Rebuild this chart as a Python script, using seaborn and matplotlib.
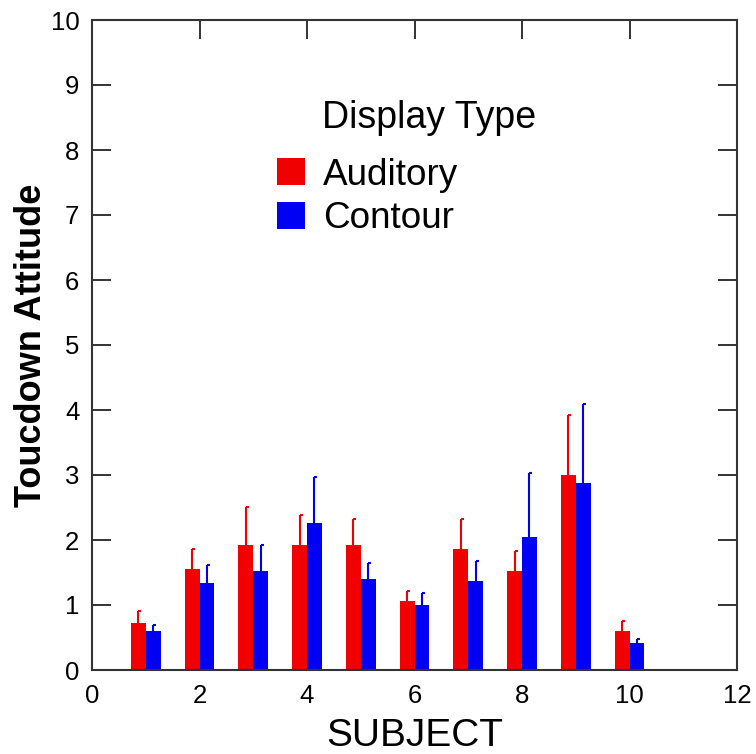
import matplotlib
matplotlib.use("Agg")
import matplotlib.pyplot as plt
from matplotlib.patches import Patch
import seaborn as sns
import pandas as pd

# Mean touchdown attitude per subject and display type, with upper error
subjects = [1, 2, 3, 4, 5, 6, 7, 8, 9, 10]
auditory = [0.72, 1.55, 1.92, 1.92, 1.92, 1.06, 1.86, 1.52, 3.00, 0.60]
auditory_err = [0.19, 0.31, 0.59, 0.46, 0.40, 0.16, 0.46, 0.31, 0.93, 0.15]
contour = [0.60, 1.34, 1.52, 2.26, 1.40, 1.00, 1.37, 2.05, 2.88, 0.42]
contour_err = [0.09, 0.28, 0.40, 0.71, 0.25, 0.18, 0.31, 0.98, 1.21, 0.06]
display_types = ["Auditory", "Contour"]
colors = {"Auditory": "#F00000", "Contour": "#0000F2"}

x_ticks = [0, 2, 4, 6, 8, 10, 12]
y_ticks = [0, 1, 2, 3, 4, 5, 6, 7, 8, 9, 10]

df = pd.DataFrame({
    "SUBJECT": subjects * 2,
    "value": auditory + contour,
    "err": auditory_err + contour_err,
    "Display Type": ["Auditory"] * len(subjects) + ["Contour"] * len(subjects),
})

sns.set_theme(style="ticks")
plt.rcParams["font.family"] = ["Liberation Sans", "DejaVu Sans"]
plt.rcParams["text.color"] = "black"
plt.rcParams["axes.labelcolor"] = "black"
plt.rcParams["xtick.color"] = "black"
plt.rcParams["ytick.color"] = "black"

fig = plt.figure(figsize=(7.56, 7.54), dpi=100)
ax = fig.add_axes([92 / 756, 84 / 754, 645 / 756, 650 / 754])

sns.barplot(data=df, x="SUBJECT", y="value", hue="Display Type",
            hue_order=display_types, palette=colors, native_scale=True,
            width=0.55, dodge=True, errorbar=None, saturation=1,
            linewidth=0, legend=False, ax=ax)

# upper error whiskers drawn from each bar's own geometry
for container, level in zip(ax.containers, display_types):
    errs = df.loc[df["Display Type"] == level, "err"].tolist()
    col = colors[level]
    for rect, e in zip(container.patches, errs):
        xc = rect.get_x() + rect.get_width() / 2
        top = rect.get_height()
        ax.vlines(xc, top, top + e, color=col, lw=1.5, zorder=3)
        ax.hlines(top + e, xc, xc + rect.get_width() * 0.2, color=col,
                  lw=1.5, zorder=3)

ax.set_xlim(0, 12)
ax.set_ylim(0, 10)
ax.set_xticks(x_ticks)
ax.set_yticks(y_ticks)
ax.tick_params(direction="in", length=13.5, width=1.4, color="#333333",
               labelcolor="black", labelsize=18.5, top=True, right=True, pad=9)
ax.tick_params(axis="x", pad=10)
for s in ax.spines.values():
    s.set_linewidth(1.5)
    s.set_color("#333333")
ax.set_axisbelow(True)

ax.set_xlabel("SUBJECT", fontsize=28, labelpad=7, color="black")
ax.set_ylabel("Toucdown Attitude", fontsize=26, fontweight="bold",
              labelpad=1, color="black")

handles = [Patch(facecolor=colors[t], edgecolor="none") for t in display_types]
ax.legend(handles, display_types, loc="upper left",
          bbox_to_anchor=(0.2636, 0.811), frameon=False, fontsize=26.6,
          handlelength=0.76, handleheight=0.76, handletextpad=0.49,
          labelspacing=0.24, borderpad=0.4, borderaxespad=0)
ax.text((322 - 92) / 645, (670 - 118) / 650, "Display Type",
        transform=ax.transAxes, fontsize=27, va="center", ha="left",
        color="black")

fig.savefig("out.png", dpi=100)
